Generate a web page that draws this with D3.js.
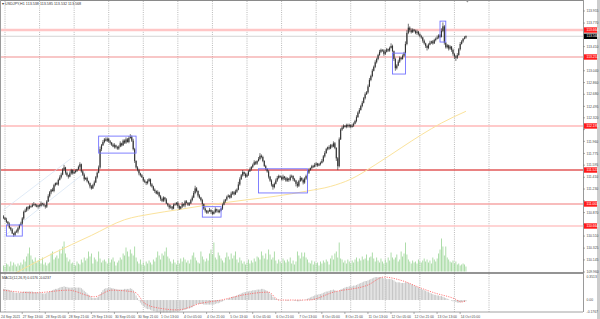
<!DOCTYPE html>
<html>
<head>
<meta charset="utf-8">
<script src="https://cdn.jsdelivr.net/npm/d3@7"></script>
<style>
body { margin:0; background:#fff; }
svg { display:block; font-family:"Liberation Sans", Arial, sans-serif; }
</style>
</head>
<body>
<script>
var w = 600, h = 319;

// USDJPY H1, first bar 24 Sep 23:00
var firstOpen = 110.81;
var closes = [
110.79,110.76,110.73,110.70,110.64,110.61,110.55,110.53,110.57,110.58,
110.63,110.68,110.70,110.78,110.88,110.90,110.95,110.93,110.97,110.96,
110.99,111.00,110.98,110.96,110.98,110.97,111.01,111.00,110.98,110.96,
111.04,111.12,111.18,111.22,111.20,111.29,111.32,111.30,111.37,111.41,
111.45,111.53,111.56,111.48,111.44,111.42,111.47,111.52,111.47,111.49,
111.51,111.53,111.57,111.61,111.50,111.45,111.38,111.40,111.35,111.32,
111.27,111.24,111.29,111.33,111.41,111.48,111.56,111.84,111.90,111.95,
111.99,111.97,112.00,111.96,111.94,111.91,111.88,111.90,111.87,111.85,
111.88,111.93,111.90,111.97,111.94,111.99,111.95,112.01,112.03,111.97,
111.84,111.66,111.56,111.52,111.47,111.44,111.41,111.36,111.34,111.32,
111.35,111.38,111.30,111.27,111.22,111.20,111.16,111.18,111.12,111.08,
111.05,111.10,111.07,111.01,110.98,110.95,110.96,110.93,110.99,111.00,
111.02,110.97,110.93,110.96,111.00,110.98,111.04,111.02,110.99,111.01,
111.06,111.10,111.17,111.24,111.20,111.13,111.10,111.06,111.00,110.93,
110.90,110.87,110.89,110.91,110.88,110.85,110.88,110.92,110.90,110.88,
110.90,110.93,110.99,111.04,111.07,111.11,111.13,111.10,111.16,111.18,
111.15,111.19,111.22,111.30,111.38,111.44,111.49,111.46,111.42,111.45,
111.50,111.53,111.57,111.60,111.64,111.62,111.66,111.69,111.74,111.72,
111.66,111.58,111.54,111.50,111.42,111.36,111.30,111.26,111.31,111.36,
111.40,111.43,111.41,111.38,111.42,111.40,111.36,111.39,111.37,111.42,
111.43,111.38,111.36,111.31,111.28,111.35,111.40,111.37,111.33,111.39,
111.43,111.48,111.52,111.55,111.58,111.57,111.60,111.62,111.59,111.61,
111.63,111.66,111.73,111.78,111.84,111.87,111.85,111.90,111.88,111.93,
111.86,111.70,111.58,111.99,112.14,112.17,112.20,112.18,112.21,112.19,
112.21,112.18,112.20,112.23,112.27,112.33,112.40,112.44,112.50,112.55,
112.62,112.68,112.71,112.80,112.90,112.96,113.04,113.10,113.17,113.22,
113.28,113.33,113.36,113.35,113.30,113.33,113.37,113.35,113.39,113.42,
113.34,113.22,113.08,113.12,113.18,113.24,113.22,113.27,113.30,113.45,
113.62,113.70,113.66,113.63,113.67,113.65,113.62,113.64,113.60,113.57,
113.55,113.50,113.46,113.42,113.39,113.44,113.47,113.49,113.46,113.51,
113.53,113.55,113.58,113.56,113.65,113.72,113.47,113.40,113.43,113.38,
113.41,113.36,113.30,113.26,113.24,113.28,113.37,113.45,113.49,113.53,113.55,113.57
];
// wick lengths in points (0.01)
var wickUp = [
2,1,3,1,2,1,2,1,2,3, 2,1,3,2,2,3,1,2,2,1, 2,3,1,2,1,2,3,1,2,1, 2,3,2,1,3,2,1,2,2,3,
3,2,4,1,2,1,3,2,1,2, 2,1,2,3,1,2,2,1,2,1, 1,2,2,3,2,2,3,4,2,3, 2,3,2,1,2,1,2,3,1,2,
2,3,1,2,2,3,2,3,4,2, 3,2,1,2,2,1,2,1,2,1, 3,2,1,2,1,2,1,3,1,2, 2,2,1,2,1,2,3,1,2,2,
1,2,2,1,3,1,2,2,1,2, 2,3,3,4,2,1,2,1,2,1, 2,1,2,3,1,2,2,3,1,2, 2,1,2,3,1,2,2,1,3,2,
2,3,2,4,3,2,3,1,2,2, 2,3,1,2,3,2,1,3,4,2, 2,1,2,1,2,1,2,1,2,3, 3,2,1,2,3,1,2,2,1,3,
2,1,2,1,3,2,3,1,2,2, 2,2,3,1,2,2,3,2,1,2, 2,3,2,3,2,1,3,2,2,3, 2,1,2,3,2,3,2,1,2,2,
2,1,3,2,2,3,2,3,2,3, 2,3,2,3,3,2,3,2,3,2, 2,3,2,1,2,3,2,1,2,4, 2,1,2,2,3,2,1,2,3,4,
4,6,2,3,2,1,2,3,1,2, 2,1,2,1,2,2,3,1,2,2, 2,3,2,2,4,6,2,1,2,1, 2,1,2,1,2,3,2,3,2,1, 2,1
];
var wickDn = [
2,1,2,3,2,2,1,3,2,1, 3,2,1,2,2,1,2,3,1,2, 1,2,2,1,3,2,1,2,2,3, 2,1,2,3,1,2,2,1,2,1,
2,1,2,3,2,3,1,2,2,1, 2,2,1,3,2,2,3,1,2,2, 3,2,1,2,1,2,1,2,3,1, 2,1,2,2,3,2,1,3,2,2,
2,1,2,1,2,2,1,2,1,2, 2,3,2,2,3,2,1,2,2,3, 2,1,3,2,2,3,1,2,2,3, 2,2,3,1,2,3,2,2,1,2,
2,3,2,1,2,2,3,1,2,2, 1,2,1,2,2,3,2,2,3,2, 3,2,2,1,3,2,1,2,3,2, 2,1,2,1,2,2,1,2,1,2,
2,1,2,1,2,1,2,3,2,1, 2,1,2,2,1,2,2,1,2,2, 2,1,2,2,3,2,3,4,2,1, 2,2,1,2,2,3,2,2,3,2,
2,3,2,4,3,2,1,2,3,2, 2,1,2,1,2,2,1,2,2,1, 2,1,2,2,1,2,2,1,2,1, 2,4,6,2,1,2,2,1,2,2,
2,2,1,2,1,2,1,2,1,2, 1,2,1,2,1,2,2,1,2,2, 2,1,2,2,3,2,1,2,2,1, 2,3,4,2,1,2,2,1,2,1,
2,2,3,2,1,2,2,3,2,2, 2,3,2,3,4,2,1,2,2,1, 2,1,2,2,1,2,3,2,2,3, 2,3,3,4,5,2,1,2,1,2, 1,2
];
// tick volume, hundreds
var volumes = [
6,5,8,7,5,10,6,9,7,5, 8,6,9,7,12,10,15,18,24,16, 12,10,14,9,11,13,8,14,7,9, 6,8,9,18,20,12,14,16,13,22,
18,25,30,18,14,10,12,8,9,7, 6,10,8,7,12,9,14,11,13,20, 15,18,8,14,12,10,20,13,9,11, 12,10,8,13,9,12,14,10,6,9,
11,14,12,18,16,24,20,15,22,18, 16,25,14,10,8,12,7,9,6,10, 8,11,9,7,12,10,14,20,16,12, 18,16,20,24,15,13,10,8,12,9,
7,11,8,13,10,14,12,9,11,8, 12,16,19,14,11,9,8,20,15,12, 10,13,11,18,22,17,29,14,12,19, 16,13,11,9,14,19,15,12,18,13,
16,20,12,9,14,11,8,10,7,9, 12,8,11,9,13,10,15,14,12,20, 16,13,18,12,22,17,12,14,20,11, 8,12,10,8,13,11,9,12,10,14,
8,11,7,10,20,16,13,19,15,19, 14,12,9,8,11,7,10,8,9,6, 10,8,11,9,12,10,7,13,16,12, 18,20,14,29,13,12,9,11,8,12,
10,8,11,9,12,14,10,13,11,15, 12,13,17,11,14,15,19,13,10,14, 11,9,13,10,8,12,9,14,11,19, 14,12,14,17,10,12,20,15,18,29,
17,12,10,8,11,9,10,8,12,10, 9,11,13,10,12,9,11,8,14,12, 10,13,18,22,33,25,16,25,14,12, 10,9,11,8,10,7,8,6,7,8, 7,5
];
var macdHist = [
0.17,0.17,0.16,0.16,0.15,0.14,0.13,0.12,0.11,0.11, 0.11,0.11,0.12,0.12,0.13,0.13,0.13,0.13,0.13,0.13,
0.13,0.12,0.12,0.12,0.11,0.11,0.11,0.10,0.10,0.10, 0.11,0.12,0.13,0.14,0.15,0.16,0.17,0.17,0.18,0.19,
0.20,0.20,0.21,0.20,0.20,0.19,0.19,0.19,0.19,0.19, 0.19,0.19,0.19,0.19,0.18,0.16,0.14,0.12,0.10,0.08,
0.06,0.04,0.03,0.03,0.03,0.04,0.05,0.09,0.12,0.15, 0.17,0.18,0.18,0.19,0.19,0.18,0.18,0.17,0.17,0.16,
0.16,0.16,0.16,0.16,0.17,0.17,0.17,0.17,0.18,0.17, 0.15,0.11,0.07,0.03,-0.01,-0.04,-0.07,-0.09,-0.11,-0.13,
-0.14,-0.14,-0.15,-0.16,-0.17,-0.17,-0.18,-0.18,-0.18,-0.19, -0.19,-0.19,-0.19,-0.19,-0.19,-0.19,-0.19,-0.18,-0.18,-0.18,
-0.17,-0.17,-0.17,-0.16,-0.16,-0.15,-0.15,-0.14,-0.13,-0.13, -0.12,-0.11,-0.09,-0.07,-0.06,-0.06,-0.06,-0.06,-0.06,-0.07,
-0.07,-0.07,-0.07,-0.07,-0.07,-0.07,-0.07,-0.06,-0.05,-0.05, -0.04,-0.03,-0.02,-0.01,0.00,0.01,0.02,0.03,0.04,0.05,
0.05,0.06,0.07,0.08,0.09,0.10,0.11,0.12,0.12,0.13, 0.13,0.14,0.14,0.15,0.15,0.15,0.16,0.16,0.16,0.17,
0.17,0.16,0.15,0.14,0.12,0.10,0.08,0.05,0.03,0.02, 0.01,0.01,0.00,0.00,0.00,0.00,-0.01,-0.01,-0.01,0.00,
0.00,0.00,-0.01,-0.01,-0.02,-0.02,-0.01,-0.01,0.00,0.00, 0.01,0.02,0.03,0.04,0.05,0.06,0.07,0.08,0.08,0.09,
0.09,0.10,0.11,0.12,0.13,0.13,0.14,0.15,0.15,0.16, 0.15,0.14,0.13,0.14,0.16,0.17,0.18,0.19,0.20,0.20,
0.21,0.21,0.21,0.22,0.22,0.23,0.24,0.25,0.26,0.27, 0.28,0.29,0.29,0.30,0.31,0.32,0.33,0.34,0.35,0.35,
0.35,0.35,0.35,0.34,0.33,0.33,0.32,0.32,0.32,0.32, 0.31,0.30,0.28,0.27,0.27,0.27,0.26,0.26,0.26,0.27,
0.27,0.26,0.25,0.24,0.23,0.22,0.21,0.20,0.19,0.18, 0.17,0.16,0.15,0.14,0.13,0.12,0.11,0.10,0.09,0.08,
0.08,0.07,0.07,0.06,0.06,0.05,0.04,0.03,0.02,0.01, 0.00,-0.01,-0.02,-0.02,-0.03,-0.04,-0.04,-0.04,-0.03,-0.03,
-0.03,-0.02
];
var signalBars = [0,12,21,45,63,75,91,98,107,121,137,151,167,184,191,212,229,253,264,276,290,299,313,318,321];
var signalVals = [0.15,0.12,0.11,0.15,0.05,0.15,0.12,-0.05,-0.12,-0.15,-0.05,0.00,0.08,0.12,0.00,0.00,0.12,0.23,0.35,0.30,0.18,0.11,0.02,-0.03,-0.01];
var maBars = [8,33,61,84,103,120,137,167,189,211,227,241,258,276,290,304,321];
var maVals = [109.94,110.23,110.52,110.76,110.85,110.91,110.97,111.06,111.12,111.20,111.27,111.38,111.60,111.86,112.06,112.24,112.42];

var levels = [113.664, 113.251, 112.195, 111.521, 111.001, 110.664];
var bidPrice = 113.568;
var priceTicks = ["113.955","113.770","113.590","113.410","113.225","113.040","112.860","112.680","112.495","112.320","112.140",
  "111.960","111.775","111.595","111.410","111.230","111.050","110.870","110.690","110.510","110.325","110.145","109.960"];
var macdTicks = ["0.3513","0.00","-0.1767"];
var timeLabels = ["27 Sep 13:00","28 Sep 05:00","28 Sep 21:00","29 Sep 13:00","30 Sep 05:00","30 Sep 21:00","1 Oct 13:00",
  "4 Oct 05:00","4 Oct 21:00","5 Oct 13:00","6 Oct 05:00","6 Oct 21:00","7 Oct 13:00","8 Oct 05:00","8 Oct 21:00",
  "11 Oct 13:00","12 Oct 05:00","12 Oct 21:00","13 Oct 13:00","14 Oct 05:00"];
// rectangles: [bar from, bar to, price top, price bottom]
var boxes = [[2,13,110.68,110.51],[66,92,112.04,111.78],[138,151,110.96,110.80],[177,211,111.54,111.17],[270,279,113.31,112.99],[303,307,113.80,113.48]];
// channel lines: [bar a, price a, bar b, price b]
var channel = [[0,110.91,47,111.70],[0,110.50,57,111.49]];

var xScale = d3.scaleLinear().domain([1, 337]).range([5, 489]);
var yScale = d3.scaleLinear().domain([109.96, 113.955]).range([272, 11]);
var volScale = d3.scaleLinear().domain([0, 40]).range([271.5, 231.5]);
var macdScale = d3.scaleLinear().domain([-0.1767, 0.3513]).range([311.6, 277]);
var axisX = 583;

var svg = d3.select("body").append("svg")
	.attr("width", w)
	.attr("height", h)

svg.append("rect").attr("width", w).attr("height", h).style("fill", "#fff")

//grid
svg.append("g").selectAll("line")
	.data(d3.range(1, 338, 24))
	.enter().append("line")
	.attr("x1", function(d){ return xScale(d); })
	.attr("x2", function(d){ return xScale(d); })
	.attr("y1", 1).attr("y2", 312)
	.style("stroke", "#a8a8a8")
	.style("stroke-width", 0.8)
	.style("stroke-dasharray", "1,1.2")

//levels
var levelStroke = ["#ffc6c6", "#f29090", "#ffb8b8", "#e25858", "#f6a6a6", "#ffc6c6"];
var levelWidth = [2.4, 1.1, 1.4, 1.6, 1.4, 1.4];
svg.append("g").selectAll("line")
	.data(levels)
	.enter().append("line")
	.attr("x1", 0).attr("x2", axisX)
	.attr("y1", function(d){ return yScale(d); })
	.attr("y2", function(d){ return yScale(d); })
	.style("stroke", function(d,i){ return levelStroke[i]; })
	.style("stroke-width", function(d,i){ return levelWidth[i]; })

svg.append("line")
	.attr("x1", 0).attr("x2", axisX)
	.attr("y1", yScale(bidPrice)).attr("y2", yScale(bidPrice))
	.style("stroke", "#cfcfcf").style("stroke-width", 0.9)

//channel
svg.append("g").selectAll("line")
	.data(channel)
	.enter().append("line")
	.attr("x1", function(d){ return xScale(d[0]); })
	.attr("y1", function(d){ return yScale(d[1]); })
	.attr("x2", function(d){ return xScale(d[2]); })
	.attr("y2", function(d){ return yScale(d[3]); })
	.style("stroke", "#d2e2f4").style("stroke-width", 0.7)

//volumes
svg.append("g").selectAll("rect")
	.data(volumes)
	.enter().append("rect")
	.attr("x", function(d,i){ return xScale(i) - 0.45; })
	.attr("width", 0.9)
	.attr("y", function(d){ return volScale(d); })
	.attr("height", function(d){ return volScale(0) - volScale(d); })
	.style("fill", "#a4d9a0")

//moving average
var ma = maBars.map(function(b,i){ return [b, maVals[i]]; });
svg.append("path")
	.datum(ma)
	.attr("d", d3.line().curve(d3.curveMonotoneX)
		.x(function(d){ return xScale(d[0]); })
		.y(function(d){ return yScale(d[1]); }))
	.style("fill", "none")
	.style("stroke", "#fbe39c")
	.style("stroke-width", 1)

//candles
var bars = closes.map(function(c, i) {
	var o = i == 0 ? firstOpen : closes[i-1];
	return { i: i, o: o, c: c,
		hi: Math.max(o, c) + wickUp[i] / 100,
		lo: Math.min(o, c) - wickDn[i] / 100 };
});
var cg = svg.append("g")
cg.selectAll("line")
	.data(bars)
	.enter().append("line")
	.attr("x1", function(d){ return xScale(d.i); })
	.attr("x2", function(d){ return xScale(d.i); })
	.attr("y1", function(d){ return yScale(d.hi); })
	.attr("y2", function(d){ return yScale(d.lo); })
	.style("stroke", "#3a3a3a")
	.style("stroke-width", 0.7)
cg.selectAll("rect")
	.data(bars)
	.enter().append("rect")
	.attr("x", function(d){ return xScale(d.i) - 0.55; })
	.attr("width", 1.1)
	.attr("y", function(d){ return yScale(Math.max(d.o, d.c)); })
	.attr("height", function(d){ return Math.max(0.7, Math.abs(yScale(d.o) - yScale(d.c))); })
	.style("fill", "#333")

//boxes
svg.append("g").selectAll("rect")
	.data(boxes)
	.enter().append("rect")
	.attr("x", function(d){ return xScale(d[0]); })
	.attr("width", function(d){ return xScale(d[1]) - xScale(d[0]); })
	.attr("y", function(d){ return yScale(d[2]); })
	.attr("height", function(d){ return yScale(d[3]) - yScale(d[2]); })
	.style("fill", "none")
	.style("stroke", "#7373ff")
	.style("stroke-width", 0.9)

//macd
svg.append("g").selectAll("rect")
	.data(macdHist)
	.enter().append("rect")
	.attr("x", function(d,i){ return xScale(i) - 0.5; })
	.attr("width", 1)
	.attr("y", function(d){ return Math.min(macdScale(d), macdScale(0)); })
	.attr("height", function(d){ return Math.abs(macdScale(d) - macdScale(0)); })
	.style("fill", "#c6c6c6")

var sig = signalBars.map(function(b,i){ return [b, signalVals[i]]; });
svg.append("path")
	.datum(sig)
	.attr("d", d3.line().curve(d3.curveMonotoneX)
		.x(function(d){ return xScale(d[0]); })
		.y(function(d){ return macdScale(d[1]); }))
	.style("fill", "none")
	.style("stroke", "#ff5a5a")
	.style("stroke-width", 0.8)
	.style("stroke-dasharray", "1.2,1.2")

//frame
svg.append("line").attr("x1", 0).attr("x2", axisX).attr("y1", 0.5).attr("y2", 0.5).style("stroke", "#8a8a8a")
svg.append("line").attr("x1", 0.5).attr("x2", 0.5).attr("y1", 0).attr("y2", 312).style("stroke", "#9a9a9a")
svg.append("line").attr("x1", 0).attr("x2", axisX).attr("y1", 273).attr("y2", 273).style("stroke", "#707070").style("stroke-width", 1.6)
svg.append("line").attr("x1", 0).attr("x2", axisX).attr("y1", 312).attr("y2", 312).style("stroke", "#8a8a8a").style("stroke-width", 0.8)
svg.append("line").attr("x1", axisX + 0.5).attr("x2", axisX + 0.5).attr("y1", 0).attr("y2", 312).style("stroke", "#9a9a9a")
svg.append("rect").attr("x", 597).attr("y", 0).attr("width", 3).attr("height", h).style("fill", "#cdcdcd")
svg.append("path")
	.attr("d", "M" + (xScale(closes.length) - 2) + ",0L" + (xScale(closes.length) + 2) + ",0L" + xScale(closes.length) + ",2.5Z")
	.style("fill", "#909090")

//texts
var fs = "3.4px", tc = "#4a4a4a";
svg.append("text").attr("x", 2).attr("y", 5.2)
	.style("font-size", "3.7px").style("fill", "#333")
	.text("\u25BE USDJPY,H1  113.538 113.585 113.532 113.568")
svg.append("text").attr("x", 2).attr("y", 278.5)
	.style("font-size", "3.5px").style("fill", "#333")
	.text("MACD(12,26,9) 0.0176 -0.0237")

// tick labels covered by a price tag are not drawn
var tagged = levels.concat([bidPrice]);
var shownTicks = priceTicks.filter(function(d) {
	return tagged.every(function(p){ return Math.abs(yScale(p) - yScale(+d)) > 4.2; });
});
var pt = svg.append("g")
pt.selectAll("line")
	.data(priceTicks)
	.enter().append("line")
	.attr("x1", axisX).attr("x2", axisX + 2)
	.attr("y1", function(d){ return yScale(+d); })
	.attr("y2", function(d){ return yScale(+d); })
	.style("stroke", "#777").style("stroke-width", 0.6)
pt.selectAll("text")
	.data(shownTicks)
	.enter().append("text")
	.attr("x", axisX + 3.5)
	.attr("y", function(d){ return yScale(+d); })
	.attr("dy", "0.35em")
	.style("font-size", fs).style("fill", tc)
	.text(function(d){ return d; })

svg.append("g").selectAll("text")
	.data(macdTicks)
	.enter().append("text")
	.attr("x", axisX + 3.5)
	.attr("y", function(d){ return macdScale(+d); })
	.attr("dy", "0.35em")
	.style("font-size", fs).style("fill", tc)
	.text(function(d){ return d; })

//price tags
var tags = svg.append("g")
tags.selectAll("rect")
	.data(levels)
	.enter().append("rect")
	.attr("x", axisX + 1).attr("width", 600 - axisX - 4)
	.attr("y", function(d){ return yScale(d) - 2.7; })
	.attr("height", 5.4)
	.style("fill", "#ff1a1a")
tags.selectAll("text")
	.data(levels)
	.enter().append("text")
	.attr("x", axisX + 3.5)
	.attr("y", function(d){ return yScale(d); })
	.attr("dy", "0.35em")
	.style("font-size", fs).style("fill", "#fff")
	.text(function(d){ return d3.format(".3f")(d); })
tags.append("rect")
	.attr("x", axisX + 1).attr("width", 600 - axisX - 4)
	.attr("y", yScale(bidPrice) - 2.7).attr("height", 5.4)
	.style("fill", "#000")
tags.append("text")
	.attr("x", axisX + 3.5).attr("y", yScale(bidPrice)).attr("dy", "0.35em")
	.style("font-size", fs).style("fill", "#fff")
	.text(d3.format(".3f")(bidPrice))

//time axis
var tg = svg.append("g")
tg.append("text").attr("x", 1).attr("y", 317.5)
	.style("font-size", fs).style("fill", tc).text("24 Sep 2021")
tg.selectAll("text.t")
	.data(timeLabels)
	.enter().append("text")
	.attr("class", "t")
	.attr("x", function(d,i){ return xScale(14 + 16 * i) - 1; })
	.attr("y", 317.5)
	.style("font-size", fs).style("fill", tc)
	.text(function(d){ return d; })
tg.selectAll("line")
	.data(timeLabels)
	.enter().append("line")
	.attr("x1", function(d,i){ return xScale(14 + 16 * i) - 1.5; })
	.attr("x2", function(d,i){ return xScale(14 + 16 * i) - 1.5; })
	.attr("y1", 312).attr("y2", 314)
	.style("stroke", "#777").style("stroke-width", 0.6)
</script>
</body>
</html>
